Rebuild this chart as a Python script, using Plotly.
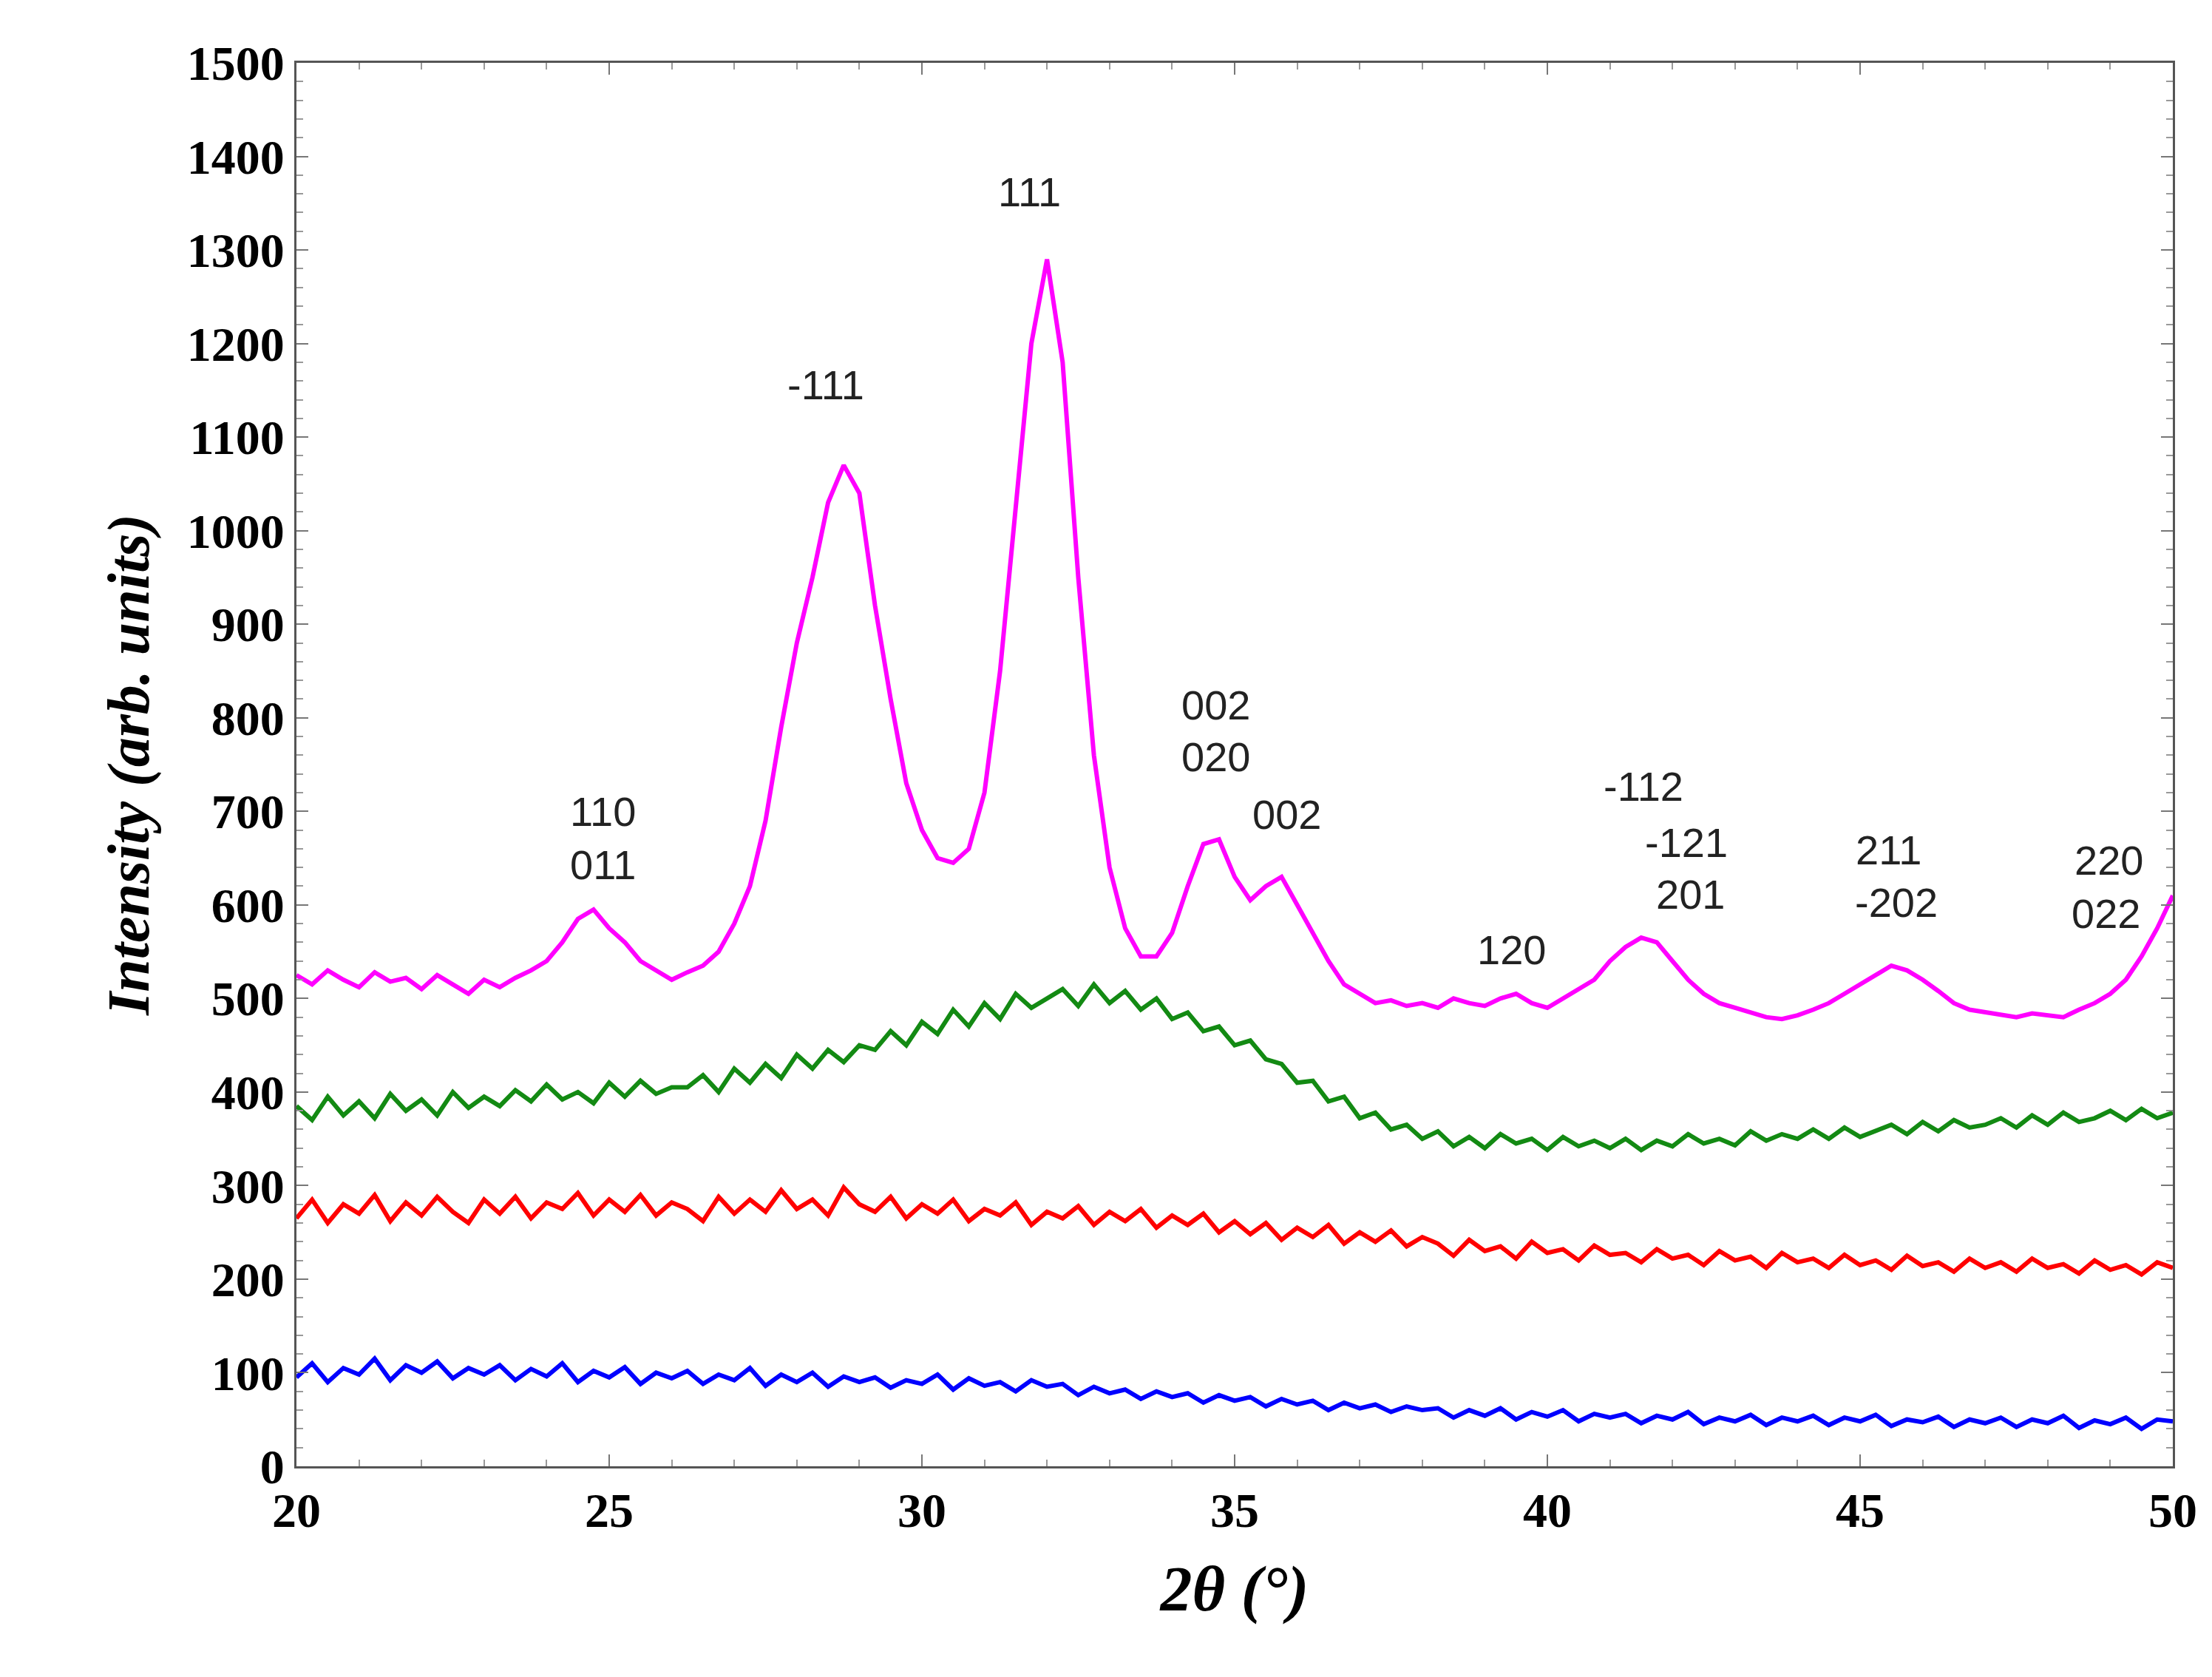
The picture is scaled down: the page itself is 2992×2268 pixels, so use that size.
import plotly.graph_objects as go

x = [20 + 0.25 * i for i in range(121)]

magenta = [525,515,530,520,512,528,518,522,510,525,515,505,520,512,522,530,540,560,585,595,575,560,540,530,520,528,535,550,580,620,690,790,880,950,1030,1070,1040,920,820,730,680,650,645,660,720,850,1030,1200,1290,1180,950,760,640,575,545,545,570,620,665,670,630,605,620,630,600,570,540,515,505,495,498,492,495,490,500,495,492,500,505,495,490,500,510,520,540,555,565,560,540,520,505,495,490,485,480,478,482,488,495,505,515,525,535,530,520,508,495,488,485,482,480,484,482,480,488,495,505,520,545,575,610]

green = [385,370,395,375,390,372,398,380,392,375,400,383,395,
385,402,390,408,392,400,388,410,395,412,398,405,
405,418,400,425,410,430,415,440,425,445,432,450,
445,465,450,475,462,488,470,495,478,505,490,500,
510,492,515,495,508,488,500,478,485,465,470,450,
455,435,430,410,412,390,395,372,378,360,365,350,
358,342,352,340,355,345,350,338,352,342,348,340,
350,338,348,342,355,345,350,343,358,348,355,350,
360,350,362,352,358,365,355,368,358,370,362,365,
372,362,375,365,378,368,372,380,370,382,372,378]

red = [265,285,260,280,270,290,262,282,268,288,272,260,285,
270,288,265,282,275,292,268,285,272,290,268,282,
275,262,288,270,285,272,295,275,285,268,298,280,
272,288,265,280,270,285,262,275,268,282,258,272,
265,278,258,272,262,275,255,268,258,270,250,262,
248,260,242,255,245,258,238,250,240,252,235,245,
238,225,242,230,235,222,240,228,232,220,236,226,
228,218,232,222,226,215,230,220,224,212,228,218,
222,212,226,215,220,210,225,214,218,208,222,212,
218,208,222,212,216,206,220,210,215,205,218,212]

blue = [95,110,90,105,98,115,92,108,100,112,94,105,98,
108,92,104,96,110,90,102,95,106,88,100,94,
102,88,98,92,105,86,98,90,100,85,96,90,
95,84,92,88,98,82,94,86,90,80,92,85,
88,76,85,78,82,72,80,74,78,68,76,70,
74,64,72,66,70,60,68,62,66,58,64,60,
62,52,60,54,62,50,58,53,60,48,56,52,
56,46,54,50,58,45,52,48,55,44,52,48,
54,44,52,48,55,43,50,47,53,42,50,46,
52,42,50,46,54,41,49,45,52,40,50,48]

labels = ["110", "011", "-111", "111", "002", "020", "002", "120", "-112", "-121", "201", "211", "-202", "220", "022"]
label_x = [24.9, 24.9, 28.46, 31.72, 34.7, 34.7, 35.83, 39.43, 41.54, 42.22, 42.29, 45.46, 45.58, 48.98, 48.93]
label_y = [700, 643, 1156, 1362, 814, 758, 697, 552, 727, 667, 611, 659, 603, 648, 591]

fig = go.Figure()
for ys, c in [(blue, "#0000ff"), (red, "#ff0000"), (green, "#138a13"), (magenta, "#ff00ff")]:
    fig.add_trace(go.Scatter(x=x, y=ys, mode="lines", line=dict(color=c, width=6), showlegend=False))

for t, lx, ly in zip(labels, label_x, label_y):
    fig.add_annotation(x=lx, y=ly, text=t, showarrow=False,
                       font=dict(family="Liberation Sans", size=56, color="#222"))

tickfont = dict(family="Liberation Serif", size=66, color="black")
axcommon = dict(showline=True, linecolor="#555", linewidth=3, mirror="ticks",
                ticks="inside", ticklen=16, tickwidth=2, tickcolor="#777",
                showgrid=False, zeroline=False, tickfont=tickfont,
                minor=dict(ticks="inside", ticklen=9, tickcolor="#999", tickwidth=2))
fig.update_xaxes(range=[20, 50], dtick=5, minor_dtick=1,
                 tickprefix="<b>", ticksuffix="</b>",
                 title=dict(text="<b><i>2θ (°)</i></b>", font=dict(family="Liberation Serif", size=86, color="black"), standoff=40),
                 **axcommon)
fig.update_yaxes(range=[0, 1500], dtick=100, minor_dtick=20,
                 tickprefix="<b>", ticksuffix="</b>",
                 title=dict(text="<b><i>Intensity (arb. units)</i></b>", font=dict(family="Liberation Serif", size=80, color="black"), standoff=25),
                 **axcommon)
fig.update_layout(width=2992, height=2268, plot_bgcolor="white", paper_bgcolor="white",
                  margin=dict(l=393, r=61, t=77, b=293))
fig.write_html("out.html")
